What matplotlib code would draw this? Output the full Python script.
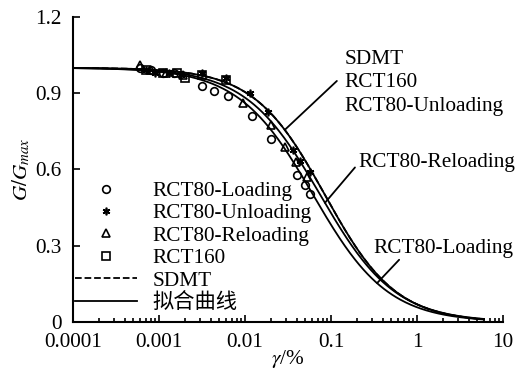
import numpy as np
import matplotlib
matplotlib.use("Agg")
import matplotlib.pyplot as plt

plt.rcParams['font.family'] = ['Liberation Serif', 'Noto Sans CJK SC']
plt.rcParams['mathtext.fontset'] = 'stix'
plt.rcParams['font.size'] = 15.3

# Measured points (strain in %, normalised modulus)
loading_x = [0.0006, 0.0008, 0.0011, 0.0015, 0.0032, 0.0044, 0.0063, 0.012, 0.020, 0.040, 0.050, 0.057]
loading_y = [1.00, 0.99, 0.98, 0.98, 0.93, 0.91, 0.89, 0.81, 0.72, 0.58, 0.54, 0.505]
unloading_x = [0.0007, 0.0009, 0.0013, 0.0018, 0.0032, 0.006, 0.0115, 0.0186, 0.036, 0.044, 0.057]
unloading_y = [0.99, 0.98, 0.98, 0.97, 0.98, 0.96, 0.90, 0.825, 0.675, 0.635, 0.59]
reloading_x = [0.0006, 0.0008, 0.0012, 0.0019, 0.0095, 0.020, 0.029, 0.039, 0.052]
reloading_y = [1.01, 0.99, 0.98, 0.97, 0.86, 0.775, 0.69, 0.63, 0.57]
rct160_x = [0.0007, 0.0011, 0.0016, 0.002, 0.0032, 0.006]
rct160_y = [0.99, 0.98, 0.98, 0.96, 0.97, 0.95]

# Hyperbolic fit parameters: reference strain (%) and exponent
fit_loading = (0.062, 1.0)
fit_reloading = (0.075, 1.0)
fit_upper = (0.085, 1.05)
sdmt_fit = (0.085, 1.05)


def hyperbolic(g, gr, a):
    return 1.0 / (1.0 + (g / gr) ** a)


fig = plt.figure(figsize=(5.18, 3.83), dpi=100)
ax = fig.add_axes([0.141, 0.159, 0.830, 0.797])

gam = np.logspace(-4, np.log10(6), 400)
ax.plot(gam, hyperbolic(gam, *fit_loading), color='black', lw=1.3)
ax.plot(gam, hyperbolic(gam, *fit_reloading), color='black', lw=1.3)
ax.plot(gam, hyperbolic(gam, *fit_upper), color='black', lw=1.3)
ax.plot(gam, hyperbolic(gam, *sdmt_fit), color='black', lw=1.3, ls='--')

mk = dict(ls='none', color='black', mfc='none', mew=1.2, ms=5.5)
h1, = ax.plot(loading_x, loading_y, marker='o', **mk)
h2, = ax.plot(unloading_x, unloading_y, marker=(6, 2, 0), **mk)
h3, = ax.plot(reloading_x, reloading_y, marker='^', **mk)
h4, = ax.plot(rct160_x, rct160_y, marker='s', **mk)
h5, = ax.plot([], [], color='black', ls='--', lw=1.3)
h6, = ax.plot([], [], color='black', lw=1.3)

ax.legend([h1, h2, h3, h4, h5, h6],
          ['RCT80-Loading', 'RCT80-Unloading', 'RCT80-Reloading', 'RCT160', 'SDMT', '拟合曲线'],
          loc='lower left', bbox_to_anchor=(0.0, 0.022), frameon=False, numpoints=1,
          handlelength=2.9, handletextpad=0.75, labelspacing=0.12, borderpad=0.1,
          borderaxespad=0.0)

# leader lines to the fitted curves
line = dict(arrowstyle='-', color='black', lw=1.3, shrinkA=0, shrinkB=0)
ax.annotate('', xy=(0.029, hyperbolic(0.029, *fit_upper)), xytext=(0.117, 0.948), arrowprops=line)
ax.annotate('', xy=(0.085, hyperbolic(0.085, *fit_reloading)), xytext=(0.19, 0.608), arrowprops=line)
ax.annotate('', xy=(0.343, hyperbolic(0.343, *fit_loading)), xytext=(0.62, 0.245), arrowprops=line)
ax.text(0.145, 0.94, 'SDMT\nRCT160\nRCT80-Unloading', ha='left', va='center', linespacing=1.35)
ax.text(0.21, 0.628, 'RCT80-Reloading', ha='left', va='center')
ax.text(0.31, 0.288, 'RCT80-Loading', ha='left', va='center')

ax.set_xscale('log')
ax.set_xlim(0.0001, 10)
ax.set_ylim(0, 1.2)
ax.set_yticks([0, 0.3, 0.6, 0.9, 1.2])
ax.set_yticklabels(['0', '0.3', '0.6', '0.9', '1.2'])
ax.set_xticks([0.0001, 0.001, 0.01, 0.1, 1, 10])
ax.set_xticklabels(['0.0001', '0.001', '0.01', '0.1', '1', '10'])
ax.tick_params(which='both', direction='in', width=1.2)
ax.tick_params(which='major', length=5, pad=8)
ax.tick_params(which='minor', length=3)
for s in ['top', 'right']:
    ax.spines[s].set_visible(False)
for s in ['left', 'bottom']:
    ax.spines[s].set_linewidth(1.5)

ax.set_xlabel(r'$\gamma$/%', labelpad=-3)
ax.set_ylabel(r'$G/G_{max}$', labelpad=2)

fig.savefig('out.png', dpi=100)
